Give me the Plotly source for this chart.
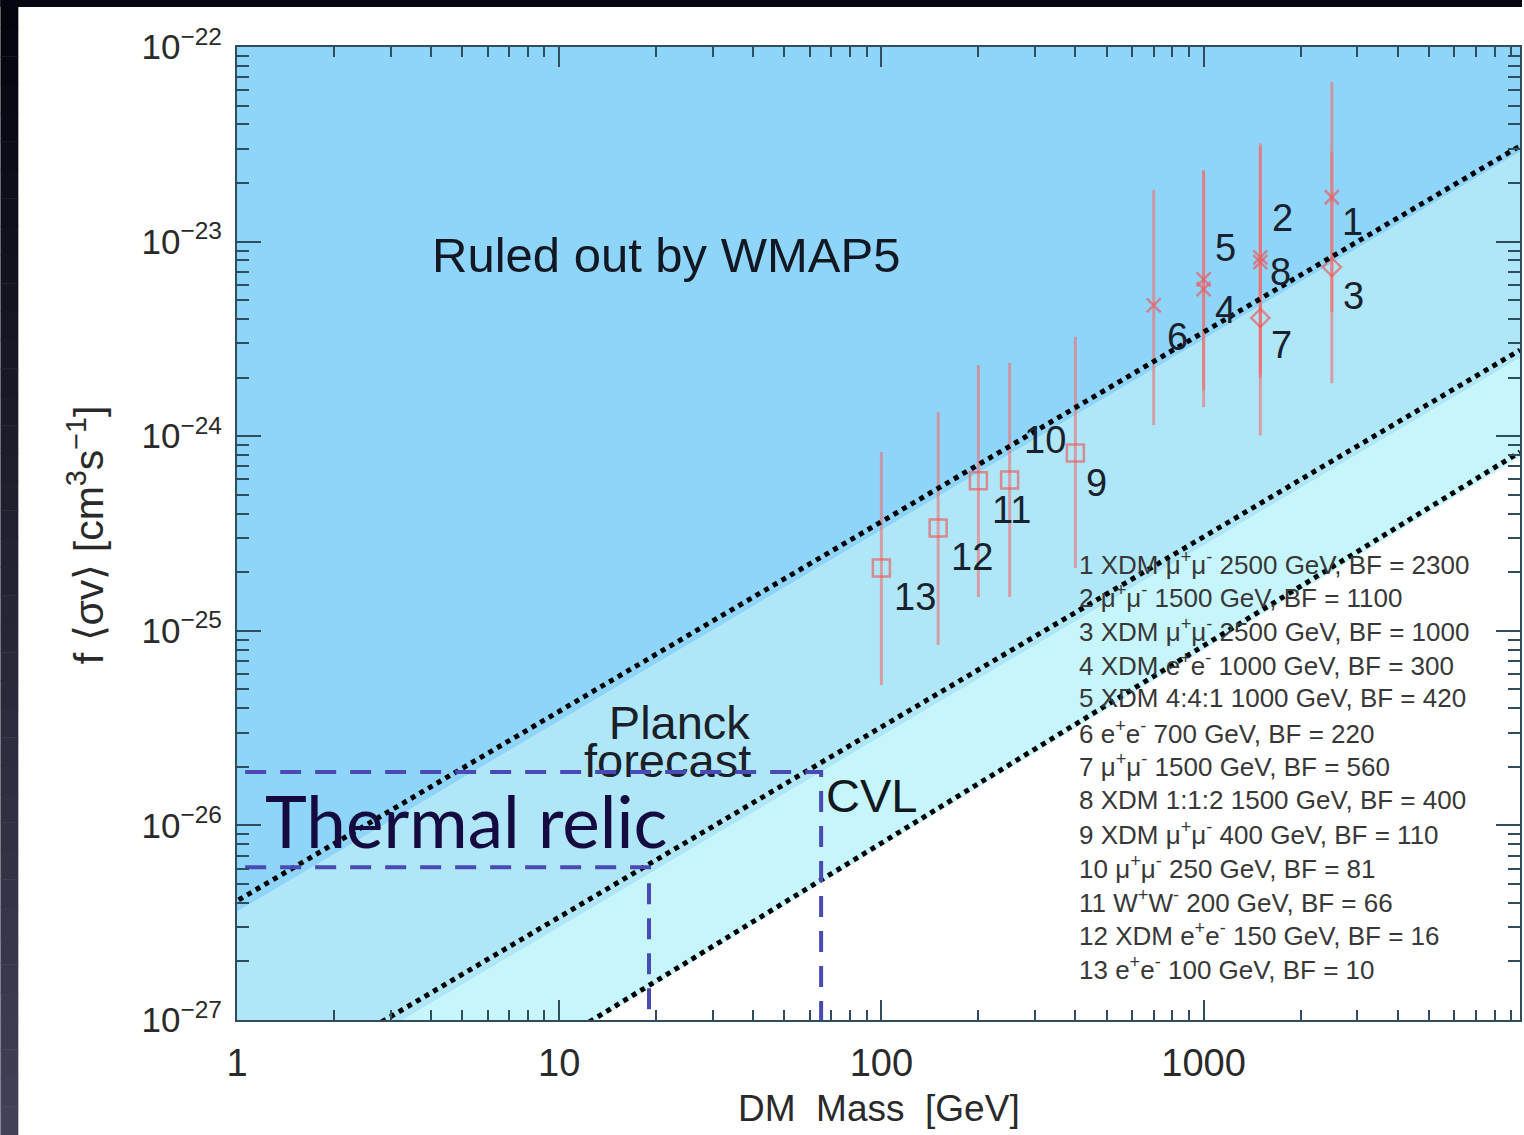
import numpy as np
import plotly.graph_objects as go

# ---------------- data ----------------
# benchmark models: DM mass [GeV], f<sigma v> centre, upper & lower ends of bars
point_id = ["1", "2", "3", "4", "5", "6", "7", "8", "9", "10", "11", "12", "13"]
mass = [2500, 1500, 2500, 1000, 1000, 700, 1500, 1500, 400, 250, 200, 150, 100]
sigma = [1.69e-23, 8.3e-24, 7.4e-24, 5.7e-24, 6.4e-24, 4.7e-24, 4.05e-24, 7.85e-24,
         8.2e-25, 5.95e-25, 5.9e-25, 3.37e-25, 2.1e-25]
sigma_hi = [6.6e-23, 3.2e-23, 2.9e-23, 2.3e-23, 2.33e-23, 1.84e-23, 1.62e-23, 3.06e-23,
            3.24e-24, 2.38e-24, 2.32e-24, 1.33e-24, 8.3e-25]
sigma_lo = [4.35e-24, 2.1e-24, 1.87e-24, 1.41e-24, 1.72e-24, 1.14e-24, 1.01e-24, 1.99e-24,
            2.1e-25, 1.49e-25, 1.49e-25, 8.45e-26, 5.26e-26]
marker_kind = ["x", "x", "d", "x", "x", "x", "d", "x", "s", "s", "s", "s", "s"]
channel = ["XDM μ<sup>+</sup>μ<sup>-</sup>", "μ<sup>+</sup>μ<sup>-</sup>",
           "XDM μ<sup>+</sup>μ<sup>-</sup>", "XDM e<sup>+</sup>e<sup>-</sup>",
           "XDM 4:4:1", "e<sup>+</sup>e<sup>-</sup>", "μ<sup>+</sup>μ<sup>-</sup>",
           "XDM 1:1:2", "XDM μ<sup>+</sup>μ<sup>-</sup>", "μ<sup>+</sup>μ<sup>-</sup>",
           "W<sup>+</sup>W<sup>-</sup>", "XDM e<sup>+</sup>e<sup>-</sup>",
           "e<sup>+</sup>e<sup>-</sup>"]
model_mass = [2500, 1500, 2500, 1000, 1000, 700, 1500, 1500, 400, 250, 200, 150, 100]
boost_factor = [2300, 1100, 1000, 300, 420, 220, 560, 400, 110, 81, 66, 16, 10]

# exclusion / forecast lines (dotted), two end points each
wmap_line_m = [0.951, 9594]
wmap_line_s = [3.90e-27, 3.10e-23]
planck_line_m = [2.81, 9594]
planck_line_s = [9.77e-28, 2.77e-24]
cvl_line_m = [12.4, 9594]
cvl_line_s = [9.77e-28, 8.3e-25]

# edges of coloured bands
band1_m = [1.0, 9594]
band1_s = [3.59e-27, 2.88e-23]
band2_m = [3.27, 9594]
band2_s = [1.0e-27, 2.52e-24]
band3_m = [13.1, 9594]
band3_s = [1.0e-27, 7.82e-25]

# thermal relic boxes (dashed)
box_m_start = 1.06
planck_box_m, planck_box_s = 65, 1.88e-26
cvl_box_m, cvl_box_s = 19, 6.1e-27

x_ticks = [1, 10, 100, 1000]
x_ticktext = ["1", "10", "100", "1000"]
y_ticks = [1e-27, 1e-26, 1e-25, 1e-24, 1e-23, 1e-22]
y_ticktext = ["10<sup>−27</sup>", "10<sup>−26</sup>", "10<sup>−25</sup>",
              "10<sup>−24</sup>", "10<sup>−23</sup>", "10<sup>−22</sup>"]

X_MIN, X_MAX = 1.0, 9594
Y_MIN, Y_MAX = 1e-27, 1e-22

# ---------------- layout helpers ----------------
W, H = 1524, 1135
L, R, T, B = 237, 1522, 47, 1020
PW, PH = R - L, B - T


def px_x(px):
    return (px - L) / PW


def px_y(py):
    return (B - py) / PH


FONT = "Liberation Sans, Arial, Helvetica, sans-serif"
C_TOP = "#8fd5f9"
C_MID = "#afe7f8"
C_LOW = "#c6f6fb"

fig = go.Figure()

# coloured bands
fig.add_trace(go.Scatter(
    x=[X_MIN, band1_m[0], band1_m[1], X_MAX, X_MIN],
    y=[Y_MAX, band1_s[0], band1_s[1], Y_MAX, Y_MAX],
    fill="toself", fillcolor=C_TOP, line=dict(width=0), mode="lines",
    hoverinfo="skip", showlegend=False))
fig.add_trace(go.Scatter(
    x=[X_MIN, band1_m[0], band1_m[1], band2_m[1], band2_m[0], X_MIN],
    y=[band1_s[0], band1_s[0], band1_s[1], band2_s[1], band2_s[0], Y_MIN],
    fill="toself", fillcolor=C_MID, line=dict(width=0), mode="lines",
    hoverinfo="skip", showlegend=False))
fig.add_trace(go.Scatter(
    x=[band2_m[0], band2_m[1], band3_m[1], band3_m[0], band2_m[0]],
    y=[band2_s[0], band2_s[1], band3_s[1], band3_s[0], band2_s[0]],
    fill="toself", fillcolor=C_LOW, line=dict(width=0), mode="lines",
    hoverinfo="skip", showlegend=False))

# "Planck forecast" label (under the dashed box line)
fig.add_trace(go.Scatter(
    x=[23.6, 21.7], y=[3.2e-26, 2.04e-26], mode="text",
    text=["Planck", "forecast"],
    textfont=dict(family=FONT, size=47, color="#1a1f2a"),
    hoverinfo="skip", showlegend=False))

# data points with error bars
sym_map = {"x": "x-thin-open", "d": "diamond-open", "s": "square-open"}
size_map = {"x": 14, "d": 14, "s": 17}
sig = np.array(sigma)
fig.add_trace(go.Scatter(
    x=mass, y=sigma, mode="markers",
    marker=dict(symbol=[sym_map[k] for k in marker_kind],
                size=[size_map[k] for k in marker_kind],
                color="rgba(236,86,86,0.9)",
                line=dict(width=2.5, color="rgba(236,86,86,0.9)")),
    error_y=dict(type="data", symmetric=False,
                 array=list(np.array(sigma_hi) - sig),
                 arrayminus=list(sig - np.array(sigma_lo)),
                 color="rgba(238,110,110,0.6)", thickness=3, width=0),
    hoverinfo="skip", showlegend=False))

# dotted limit lines
for mm, ss in [(wmap_line_m, wmap_line_s), (planck_line_m, planck_line_s),
               (cvl_line_m, cvl_line_s)]:
    fig.add_trace(go.Scatter(
        x=mm, y=ss, mode="lines",
        line=dict(color="black", width=5, dash="5px,5px"),
        hoverinfo="skip", showlegend=False))

# thermal relic dashed boxes
DASH_C = "#4a4ab4"
for bm, bs in [(planck_box_m, planck_box_s), (cvl_box_m, cvl_box_s)]:
    fig.add_trace(go.Scatter(
        x=[box_m_start, bm, bm], y=[bs, bs, Y_MIN], mode="lines",
        line=dict(color=DASH_C, width=4, dash="21px,14px"),
        hoverinfo="skip", showlegend=False))

annotations = []

# point number labels
label_shift = {"1": (21, -25), "2": (22, 39), "3": (22, -29), "4": (22, -21),
               "5": (22, 31), "6": (24, -32), "7": (21, -27), "8": (20, -10),
               "9": (21, -30), "10": (35, 40), "11": (33, -29), "12": (34, -29),
               "13": (34, -29)}
for pid, m, s in zip(point_id, mass, sigma):
    dx, dy = label_shift[pid]
    annotations.append(dict(
        x=np.log10(m), y=np.log10(s), xref="x", yref="y", text=pid,
        showarrow=False, xshift=dx, yshift=dy, xanchor="center", yanchor="middle",
        font=dict(family=FONT, size=38, color="#18222f")))

# model list
for i, (pid, ch, mm, bf) in enumerate(zip(point_id, channel, model_mass, boost_factor)):
    annotations.append(dict(
        x=px_x(1078), y=px_y(563 + i * 33.8), xref="paper", yref="paper",
        text=f"{pid} {ch} {mm} GeV, BF = {bf}", showarrow=False,
        xanchor="left", yanchor="middle",
        font=dict(family=FONT, size=26, color="#383838")))

# region labels
annotations += [
    dict(x=px_x(667), y=px_y(255), xref="paper", yref="paper",
         text="Ruled out by WMAP5", showarrow=False, xanchor="center", yanchor="middle",
         font=dict(family=FONT, size=49, color="#111822")),
    dict(x=px_x(872), y=px_y(795), xref="paper", yref="paper",
         text="CVL", showarrow=False, xanchor="center", yanchor="middle",
         font=dict(family=FONT, size=47, color="#111822")),
    dict(x=px_x(466), y=px_y(820), xref="paper", yref="paper",
         text="Thermal relic", showarrow=False, xanchor="center", yanchor="middle",
         font=dict(family="Lato, Open Sans, sans-serif", size=71, color="#160b40")),
    dict(x=px_x(880), y=px_y(1108), xref="paper", yref="paper",
         text="DM  Mass  [GeV]", showarrow=False, xanchor="center", yanchor="middle",
         font=dict(family=FONT, size=37, color="#2a2a2a")),
    dict(x=px_x(86), y=px_y(535), xref="paper", yref="paper",
         text="f ⟨σv⟩ [cm<sup>3</sup>s<sup>−1</sup>]", showarrow=False, textangle=-90,
         xanchor="center", yanchor="middle",
         font=dict(family=FONT, size=41, color="#2a2a2a")),
]

# slide frame (dark border)
shapes = []
top_c = np.array([4, 4, 14])
bot_c = np.array([66, 66, 88])
n = 40
for k in range(n):
    y0 = k * H / n
    y1 = (k + 1) * H / n
    c = top_c + (bot_c - top_c) * (k + 0.5) / n
    shapes.append(dict(type="rect", xref="paper", yref="paper",
                       x0=px_x(0), x1=px_x(18), y0=px_y(y1), y1=px_y(y0) + 0.0005,
                       fillcolor=f"rgb({int(c[0])},{int(c[1])},{int(c[2])})",
                       line=dict(width=0), layer="above"))
shapes.append(dict(type="rect", xref="paper", yref="paper",
                   x0=px_x(0), x1=px_x(W), y0=px_y(7), y1=px_y(0),
                   fillcolor="rgb(6,6,16)", line=dict(width=0), layer="above"))

AX_C = "#2f4d5c"
fig.update_layout(
    width=W, height=H,
    margin=dict(l=L, r=W - R, t=T, b=H - B, pad=0),
    paper_bgcolor="white", plot_bgcolor="white",
    showlegend=False,
    annotations=annotations, shapes=shapes,
    xaxis=dict(type="log", range=[np.log10(X_MIN), np.log10(X_MAX)],
               tickvals=x_ticks, ticktext=x_ticktext,
               ticks="inside", ticklen=20, tickwidth=2, tickcolor=AX_C,
               minor=dict(ticks="inside", ticklen=10, tickwidth=1.5, tickcolor=AX_C,
                          dtick="D1", showgrid=False),
               showline=True, linecolor=AX_C, linewidth=2, mirror="ticks",
               showgrid=False, zeroline=False, ticklabelstandoff=8,
               tickfont=dict(family=FONT, size=38, color="#2a2a2a")),
    yaxis=dict(type="log", range=[np.log10(Y_MIN), np.log10(Y_MAX)],
               tickvals=y_ticks, ticktext=y_ticktext,
               ticks="inside", ticklen=24, tickwidth=2, tickcolor=AX_C,
               minor=dict(ticks="inside", ticklen=12, tickwidth=1.5, tickcolor=AX_C,
                          dtick="D1", showgrid=False),
               showline=True, linecolor=AX_C, linewidth=2, mirror="ticks",
               showgrid=False, zeroline=False, ticklabelstandoff=6,
               tickfont=dict(family=FONT, size=35, color="#2a2a2a")),
)

fig.write_html("out.html")
